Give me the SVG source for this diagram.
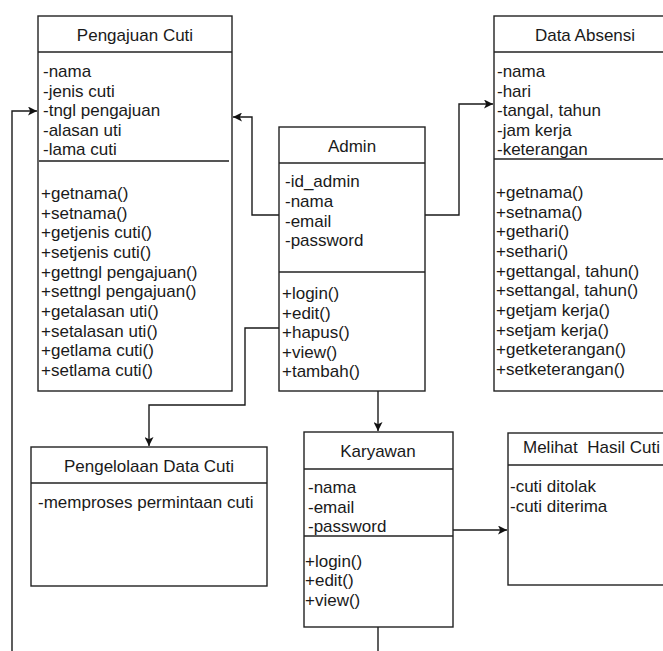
<svg xmlns="http://www.w3.org/2000/svg" width="663" height="651" viewBox="0 0 663 651">
<defs>
<marker id="arr" viewBox="0 0 10 10" refX="10" refY="5" markerWidth="9" markerHeight="9" markerUnits="userSpaceOnUse" orient="auto">
<path d="M0,0 L10,5 L0,10 L2.5,5 z" fill="#111"/>
</marker>
<style>
.box{fill:#fff;stroke:#222;stroke-width:1.4}
.div{stroke:#222;stroke-width:1.4}
.t{font-family:"Liberation Sans",Arial,sans-serif;font-size:17px;fill:#1a1a1a}
.c{text-anchor:middle}
.con{fill:none;stroke:#1a1a1a;stroke-width:1.4}
</style>
</defs>
<rect width="663" height="651" fill="#fff"/>
<g id="connectors">
<path class="con" d="M279,215 H252 V117 H233" marker-end="url(#arr)"/>
<path class="con" d="M425,215 H459 V104 H493" marker-end="url(#arr)"/>
<path class="con" d="M279,328 H245 V405 H149 V446" marker-end="url(#arr)"/>
<path class="con" d="M378,391 V431" marker-end="url(#arr)"/>
<path class="con" d="M453,530 H507" marker-end="url(#arr)"/>
<path class="con" d="M12,651 V111 H37" marker-end="url(#arr)"/>
<path class="con" d="M378,627 V651"/>
</g>
<g id="pengajuan-cuti">
<rect class="box" x="38" y="16" width="194" height="375"/>
<line class="div" x1="38" y1="52" x2="232" y2="52"/>
<line x1="39" y1="161" x2="229" y2="161" stroke="#555" stroke-width="2"/>
<text class="t c" x="135" y="41">Pengajuan Cuti</text>
<text class="t" x="43" y="77">-nama</text>
<text class="t" x="43" y="96.5">-jenis cuti</text>
<text class="t" x="43" y="116">-tngl pengajuan</text>
<text class="t" x="43" y="135.5">-alasan uti</text>
<text class="t" x="43" y="155">-lama cuti</text>
<text class="t" x="41" y="199">+getnama()</text>
<text class="t" x="41" y="218.7">+setnama()</text>
<text class="t" x="41" y="238.3">+getjenis cuti()</text>
<text class="t" x="41" y="258">+setjenis cuti()</text>
<text class="t" x="41" y="277.7">+gettngl pengajuan()</text>
<text class="t" x="41" y="297.3">+settngl pengajuan()</text>
<text class="t" x="41" y="317">+getalasan uti()</text>
<text class="t" x="41" y="336.7">+setalasan uti()</text>
<text class="t" x="41" y="356.3">+getlama cuti()</text>
<text class="t" x="41" y="376">+setlama cuti()</text>
</g>
<g id="admin">
<rect class="box" x="279" y="127" width="146" height="264"/>
<line class="div" x1="279" y1="163" x2="425" y2="163"/>
<line class="div" x1="279" y1="272" x2="425" y2="272"/>
<text class="t c" x="352" y="152">Admin</text>
<text class="t" x="285" y="187">-id_admin</text>
<text class="t" x="285" y="207">-nama</text>
<text class="t" x="285" y="227">-email</text>
<text class="t" x="285" y="246">-password</text>
<text class="t" x="282" y="299">+login()</text>
<text class="t" x="282" y="319">+edit()</text>
<text class="t" x="282" y="338">+hapus()</text>
<text class="t" x="282" y="358">+view()</text>
<text class="t" x="282" y="377">+tambah()</text>
</g>
<g id="data-absensi">
<rect class="box" x="494" y="16" width="182" height="375"/>
<line class="div" x1="494" y1="52" x2="676" y2="52"/>
<line class="div" x1="494" y1="159" x2="676" y2="159"/>
<text class="t c" x="585" y="41">Data Absensi</text>
<text class="t" x="497" y="77">-nama</text>
<text class="t" x="497" y="96.5">-hari</text>
<text class="t" x="497" y="116">-tangal, tahun</text>
<text class="t" x="497" y="135.5">-jam kerja</text>
<text class="t" x="497" y="155">-keterangan</text>
<text class="t" x="496" y="198">+getnama()</text>
<text class="t" x="496" y="217.7">+setnama()</text>
<text class="t" x="496" y="237.3">+gethari()</text>
<text class="t" x="496" y="257">+sethari()</text>
<text class="t" x="496" y="276.7">+gettangal, tahun()</text>
<text class="t" x="496" y="296.3">+settangal, tahun()</text>
<text class="t" x="496" y="316">+getjam kerja()</text>
<text class="t" x="496" y="335.7">+setjam kerja()</text>
<text class="t" x="496" y="355.3">+getketerangan()</text>
<text class="t" x="496" y="375">+setketerangan()</text>
</g>
<g id="pengelolaan-data-cuti">
<rect class="box" x="31" y="447" width="236" height="139"/>
<line class="div" x1="31" y1="483" x2="267" y2="483"/>
<text class="t c" x="149" y="472">Pengelolaan Data Cuti</text>
<text class="t" x="38" y="508">-memproses permintaan cuti</text>
</g>
<g id="karyawan">
<rect class="box" x="304" y="432" width="149" height="195"/>
<line class="div" x1="304" y1="469" x2="453" y2="469"/>
<line class="div" x1="304" y1="536" x2="453" y2="536"/>
<text class="t c" x="378" y="457">Karyawan</text>
<text class="t" x="308" y="493">-nama</text>
<text class="t" x="308" y="513">-email</text>
<text class="t" x="308" y="532">-password</text>
<text class="t" x="305" y="567">+login()</text>
<text class="t" x="305" y="586">+edit()</text>
<text class="t" x="305" y="606">+view()</text>
</g>
<g id="melihat-hasil-cuti">
<rect class="box" x="508" y="433" width="170" height="152"/>
<line class="div" x1="508" y1="465" x2="678" y2="465"/>
<text class="t" x="523" y="453" xml:space="preserve">Melihat  Hasil Cuti</text>
<text class="t" x="510" y="492">-cuti ditolak</text>
<text class="t" x="510" y="512">-cuti diterima</text>
</g>
</svg>
